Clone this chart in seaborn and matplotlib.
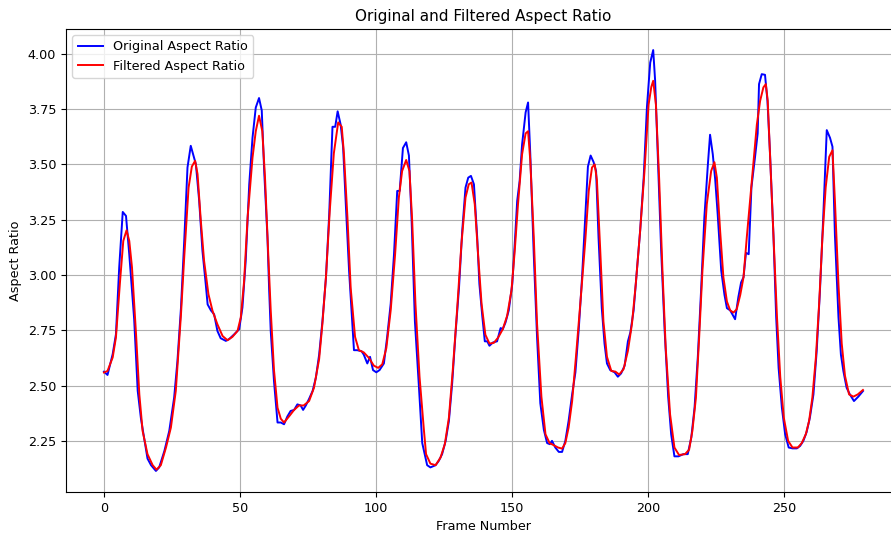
import numpy as np
import pandas as pd
import seaborn as sns
import matplotlib
matplotlib.use("Agg")
import matplotlib.pyplot as plt

# original aspect ratio at the line's vertices
orig_frame = [0, 1.3, 3.2, 4.4, 5.6, 6.9, 8.1, 9.3, 11.1, 12.4, 13.6, 14.8, 16.0, 17.3, 19.1, 20.3,
              22.2, 24.0, 25.8, 27.0, 28.3, 29.5, 30.7, 31.9, 33.8, 35.0, 36.2, 37.4, 38.1, 39.3, 40.5,
              41.7, 42.9, 44.8, 46.0, 47.9, 49.7, 50.9, 52.1, 53.4, 54.6, 55.8, 57.0, 58.0, 58.9, 60.1,
              60.7, 61.3, 62.5, 63.8, 65.0, 66.2, 67.4, 68.6, 69.9, 71.1, 72.3, 73.2, 74.2, 75.4, 76.7,
              77.9, 79.1, 80.3, 81.6, 82.8, 84.0, 85.0, 85.9, 87.0, 87.9, 88.9, 90.1, 91.0, 91.9, 93.1,
              94.7, 95.5, 96.8, 97.8, 98.9, 100.1, 101.3, 102.9, 104.1, 105.4, 106.6, 107.8, 108.7, 109.9,
              111.1, 112.1, 113.1, 114.3, 115.8, 117.0, 118.8, 120.0, 121.9, 123.1, 124.3, 125.6, 126.8,
              128.0, 129.2, 130.5, 131.7, 132.9, 133.9, 134.9, 136.0, 137.2, 138.0, 139.1, 140.0, 140.9,
              141.7, 143.0, 144.5, 145.8, 146.6, 147.6, 148.8, 150.1, 151.0, 151.9, 152.8, 153.7, 155.0,
              155.9, 156.7, 158.0, 159.2, 160.4, 161.7, 162.9, 163.9, 164.7, 165.9, 167.2, 168.4, 169.6,
              170.8, 172.1, 173.3, 174.5, 175.7, 176.9, 177.9, 178.9, 180.0, 180.9, 181.8, 183.0, 184.0,
              184.9, 186.1, 187.7, 188.9, 190.1, 191.4, 192.6, 193.5, 194.7, 195.9, 197.1, 198.4, 199.6,
              200.8, 201.9, 202.6, 203.6, 204.8, 206.1, 207.4, 208.5, 209.7, 211.2, 213.0, 214.6, 215.9,
              217.1, 218.3, 219.5, 220.7, 222.0, 222.8, 223.8, 224.7, 225.6, 226.9, 228.1, 229.0, 230.2,
              231.1, 232.0, 233.2, 234.2, 235.1, 236.0, 237.0, 238.0, 239.3, 240.3, 240.8, 241.8, 243.0,
              243.9, 244.8, 246.1, 247.1, 248.0, 249.2, 250.4, 251.7, 253.1, 254.7, 255.9, 257.1, 258.3,
              259.5, 260.8, 262.0, 263.2, 264.4, 265.7, 266.9, 267.8, 268.7, 270.0, 270.9, 271.8, 273.0,
              274.2, 275.7, 277.3, 279.0]
orig_ratio = [2.563, 2.548, 2.642, 2.732, 3.034, 3.285, 3.267, 3.093, 2.80, 2.476, 2.35, 2.26, 2.17, 2.14,
              2.114, 2.13, 2.204, 2.295, 2.446, 2.61, 2.85, 3.154, 3.486, 3.584, 3.50, 3.335, 3.109, 2.96,
              2.867, 2.84, 2.822, 2.747, 2.714, 2.702, 2.71, 2.732, 2.755, 2.853, 3.064, 3.41, 3.62, 3.757,
              3.80, 3.744, 3.47, 3.17, 2.94, 2.747, 2.52, 2.333, 2.333, 2.325, 2.36, 2.385, 2.39, 2.415,
              2.41, 2.39, 2.41, 2.44, 2.476, 2.536, 2.64, 2.79, 2.988, 3.275, 3.67, 3.67, 3.74, 3.68, 3.58,
              3.32, 3.02, 2.84, 2.66, 2.66, 2.655, 2.64, 2.60, 2.63, 2.57, 2.56, 2.57, 2.60, 2.72, 2.87,
              3.09, 3.38, 3.38, 3.574, 3.60, 3.54, 3.245, 2.79, 2.49, 2.24, 2.14, 2.13, 2.14, 2.16, 2.19,
              2.25, 2.34, 2.51, 2.73, 2.94, 3.20, 3.395, 3.44, 3.448, 3.41, 3.17, 2.96, 2.81, 2.70, 2.70,
              2.68, 2.695, 2.70, 2.76, 2.755, 2.785, 2.84, 2.96, 3.14, 3.335, 3.425, 3.59, 3.735, 3.78,
              3.55, 3.09, 2.72, 2.42, 2.30, 2.24, 2.235, 2.25, 2.22, 2.20, 2.20, 2.25, 2.34, 2.46, 2.56,
              2.75, 2.98, 3.26, 3.49, 3.54, 3.51, 3.47, 3.17, 2.85, 2.69, 2.60, 2.57, 2.56, 2.54, 2.555,
              2.59, 2.70, 2.74, 2.84, 3.02, 3.20, 3.44, 3.76, 3.96, 4.017, 3.88, 3.53, 3.12, 2.75, 2.45,
              2.28, 2.18, 2.18, 2.19, 2.19, 2.265, 2.40, 2.63, 2.93, 3.26, 3.50, 3.634, 3.546, 3.43, 3.275,
              3.02, 2.91, 2.85, 2.84, 2.82, 2.80, 2.90, 2.966, 2.99, 3.10, 3.094, 3.395, 3.53, 3.64, 3.863,
              3.908, 3.905, 3.787, 3.56, 3.18, 2.81, 2.58, 2.40, 2.28, 2.22, 2.216, 2.216, 2.227, 2.25,
              2.29, 2.355, 2.46, 2.657, 2.93, 3.26, 3.655, 3.62, 3.58, 3.18, 2.81, 2.64, 2.566, 2.49, 2.46,
              2.43, 2.45, 2.475]

# filtered aspect ratio
filt_frame = [0, 1.3, 3.2, 4.4, 5.9, 7.1, 8.3, 9.3, 10.3, 11.8, 13.0, 14.2, 16.0, 17.9, 19.3, 20.9,
              22.8, 24.6, 26.4, 28.3, 29.5, 31.1, 32.3, 33.5, 34.4, 35.6, 36.8, 38.4, 39.9, 41.7, 43.6,
              45.4, 47.2, 49.1, 50.3, 51.5, 52.8, 54.6, 55.8, 57.0, 58.2, 59.2, 60.4, 61.3, 62.5, 63.8,
              65.0, 66.2, 68.0, 69.9, 71.7, 73.4, 75.4, 77.2, 79.1, 80.3, 81.6, 83.0, 84.5, 86.1, 87.4,
              88.2, 89.5, 90.7, 92.3, 93.7, 95.5, 97.4, 99.2, 100.8, 102.3, 103.8, 105.4, 107.0, 108.4,
              109.6, 111.1, 112.3, 113.3, 114.5, 116.0, 117.6, 118.4, 120.0, 121.9, 123.7, 125.3, 126.8,
              128.2, 129.8, 131.4, 132.9, 134.1, 135.1, 136.3, 137.6, 138.8, 140.2, 141.7, 143.3, 144.9,
              146.6, 148.2, 149.8, 151.0, 152.2, 153.7, 155.0, 155.9, 156.7, 158.0, 159.2, 160.8, 162.3,
              163.8, 165.4, 166.9, 168.4, 169.6, 170.8, 172.1, 173.5, 175.1, 176.9, 178.2, 179.4, 180.4,
              181.2, 182.4, 183.6, 184.9, 186.5, 188.0, 189.4, 191.0, 192.6, 194.1, 195.5, 197.1, 198.7,
              200.2, 201.2, 201.9, 202.9, 204.1, 205.3, 206.5, 208.1, 209.7, 211.4, 213.6, 215.1, 216.3,
              217.6, 218.8, 220.0, 221.6, 223.2, 224.4, 225.3, 226.5, 227.7, 229.0, 230.2, 231.4, 232.6,
              233.9, 235.1, 236.3, 237.5, 238.8, 240.0, 241.2, 242.4, 243.3, 244.0, 244.8, 246.1, 247.4,
              248.6, 249.9, 251.5, 253.1, 255.1, 256.5, 258.0, 259.2, 260.4, 261.7, 262.9, 264.1, 265.3,
              266.6, 267.8, 268.7, 270.0, 271.2, 272.4, 273.9, 275.5, 277.1, 279.0]
filt_ratio = [2.559, 2.566, 2.627, 2.718, 2.97, 3.154, 3.202, 3.154, 3.034, 2.73, 2.46, 2.295, 2.19, 2.14,
              2.12, 2.14, 2.22, 2.31, 2.476, 2.82, 3.08, 3.395, 3.49, 3.516, 3.456, 3.245, 3.064, 2.913,
              2.838, 2.777, 2.724, 2.705, 2.72, 2.747, 2.808, 2.97, 3.26, 3.53, 3.65, 3.72, 3.65, 3.44,
              3.09, 2.84, 2.57, 2.40, 2.35, 2.333, 2.36, 2.39, 2.41, 2.41, 2.43, 2.49, 2.62, 2.78, 2.99,
              3.29, 3.55, 3.69, 3.67, 3.55, 3.26, 2.94, 2.72, 2.66, 2.65, 2.625, 2.59, 2.58, 2.596, 2.67,
              2.84, 3.09, 3.35, 3.47, 3.52, 3.47, 3.245, 2.87, 2.54, 2.30, 2.19, 2.147, 2.14, 2.174, 2.235,
              2.355, 2.566, 2.84, 3.14, 3.35, 3.41, 3.418, 3.32, 3.08, 2.87, 2.73, 2.69, 2.693, 2.717,
              2.755, 2.815, 2.93, 3.11, 3.32, 3.546, 3.64, 3.65, 3.52, 3.17, 2.78, 2.45, 2.28, 2.24, 2.23,
              2.22, 2.215, 2.24, 2.31, 2.43, 2.63, 2.87, 3.15, 3.38, 3.486, 3.50, 3.43, 3.12, 2.79, 2.63,
              2.566, 2.563, 2.55, 2.574, 2.657, 2.78, 2.96, 3.20, 3.47, 3.77, 3.85, 3.878, 3.77, 3.43,
              3.02, 2.67, 2.37, 2.22, 2.186, 2.19, 2.21, 2.295, 2.445, 2.72, 3.02, 3.32, 3.47, 3.51, 3.44,
              3.20, 2.99, 2.88, 2.84, 2.83, 2.845, 2.91, 2.99, 3.17, 3.335, 3.516, 3.68, 3.787, 3.848,
              3.863, 3.787, 3.56, 3.18, 2.81, 2.54, 2.355, 2.25, 2.22, 2.22, 2.24, 2.28, 2.34, 2.445,
              2.627, 2.87, 3.17, 3.395, 3.534, 3.564, 3.335, 2.958, 2.69, 2.544, 2.46, 2.45, 2.46, 2.48]

orig = pd.DataFrame({"frame": orig_frame, "ratio": orig_ratio})
filt = pd.DataFrame({"frame": filt_frame, "ratio": filt_ratio})

plt.rcParams.update({"font.size": 9.2, "axes.titlesize": 11})

fig = plt.figure(figsize=(8.91, 5.35), dpi=100)
ax = fig.add_axes([0.0741, 0.0804, 0.937, 0.8654])

sns.lineplot(x="frame", y="ratio", data=orig, ax=ax, color="blue", lw=1.4,
             estimator=None, sort=False, label="Original Aspect Ratio")
sns.lineplot(x="frame", y="ratio", data=filt, ax=ax, color="red", lw=1.4,
             estimator=None, sort=False, label="Filtered Aspect Ratio")

ax.set(title="Original and Filtered Aspect Ratio", xlabel="Frame Number", ylabel="Aspect Ratio")
ax.grid(True)
ax.legend(loc="upper left")

fig.savefig("out.png", dpi=100)
plt.close()
